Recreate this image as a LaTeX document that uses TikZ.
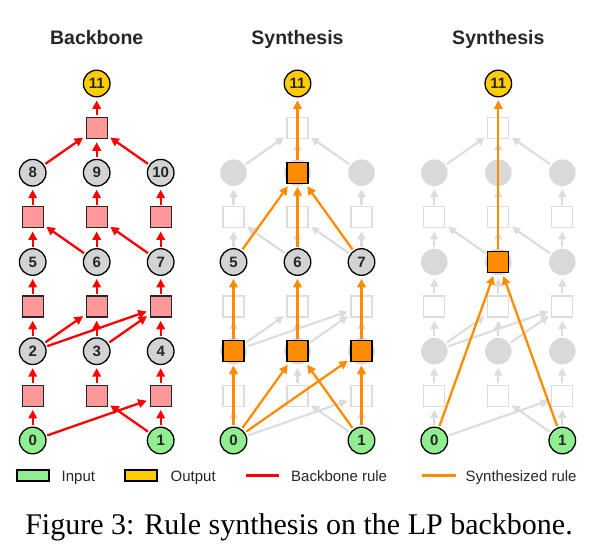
\documentclass[tikz,border=0pt]{standalone}
\usepackage{fontspec}
\setmainfont{Liberation Sans}
\newfontfamily\capfont{Liberation Serif}
\usetikzlibrary{arrows.meta}
\definecolor{nodegray}{HTML}{D3D3D3}
\definecolor{ingreen}{HTML}{90EE90}
\definecolor{outgold}{HTML}{FFCC00}
\definecolor{sqpink}{HTML}{FF9999}
\definecolor{synorange}{HTML}{FF8C00}
\definecolor{ghostline}{HTML}{DCDCDC}
\definecolor{ghostfill}{HTML}{D9D9D9}
\definecolor{txt}{HTML}{262626}
\tikzset{
  var/.style={circle, draw=black, line width=1.3pt, fill=nodegray, minimum size=26.6pt, inner sep=0pt,
    font=\bfseries\fontsize{15}{15}\selectfont, text=txt},
  invar/.style={var, fill=ingreen},
  outvar/.style={var, fill=outgold},
  rulebox/.style={rectangle, draw=txt, line width=1.3pt, fill=sqpink, minimum size=21pt, inner sep=0pt},
  synbox/.style={rectangle, draw=black, line width=1.3pt, fill=synorange, minimum size=21pt, inner sep=0pt},
  ghostvar/.style={circle, fill=ghostfill, minimum size=26.6pt, inner sep=0pt},
  ghostbox/.style={rectangle, draw=ghostline, line width=1.3pt, fill=white, minimum size=21pt, inner sep=0pt},
  bbarrow/.style={draw=red, line width=2.3pt, -{Triangle[length=8.5pt,width=8.5pt]}, shorten >=3pt, shorten <=1.5pt},
  ghostarrow/.style={draw=ghostline, line width=2.1pt, -{Triangle[length=8pt,width=8pt]}, shorten >=3pt, shorten <=1.5pt},
  synarrow/.style={draw=synorange, line width=2.3pt, -{Triangle[length=8.5pt,width=8.5pt]}, shorten >=3pt, shorten <=1.5pt},
  title/.style={font=\bfseries\fontsize{19.5}{19.5}\selectfont, text=txt, anchor=base},
  legbox/.style={rectangle, draw=black, line width=1.2pt, minimum width=32pt, minimum height=11pt, inner sep=0pt},
  legtext/.style={font=\fontsize{15}{15}\selectfont, text=txt, anchor=base west, inner sep=0pt},
  legline/.style={line width=3pt},
}
\begin{document}
\begin{tikzpicture}[x=1pt,y=-1pt]
\useasboundingbox (0,0) rectangle (599,557);
% titles
\node[title] (t1) at (96.7,44) {Backbone};
\node[title] (t2) at (297.5,44) {Synthesis};
\node[title] (t3) at (498.3,44) {Synthesis};

% ===== Left panel: backbone =====
\begin{scope}
\foreach \k/\x/\y in {2/32.7/351.2, 3/96.7/351.2, 4/160.7/351.2, 5/32.7/262.0, 6/96.7/262.0, 7/160.7/262.0, 8/32.7/172.7, 9/96.7/172.7, 10/160.7/172.7}
  \node[var] (L\k) at (\x,\y) {\k};
\node[invar] (L0) at (32.7,440.5) {0};
\node[invar] (L1) at (160.7,440.5) {1};
\node[outvar] (L11) at (96.7,83.5) {11};
\foreach \k/\x/\y in {2/32.7/351.2, 3/96.7/351.2, 4/160.7/351.2, 5/32.7/262.0, 6/96.7/262.0, 7/160.7/262.0, 8/32.7/172.7, 9/96.7/172.7, 10/160.7/172.7, 11/96.7/83.5}
  \node[rulebox] (LS\k) at (\x,\y+44.6) {};
\foreach \a/\b in {0/2, 1/3, 0/4, 1/4, 2/5, 2/6, 3/6, 2/7, 3/7, 4/7, 5/8, 6/8, 6/9, 7/9, 7/10, 8/11, 9/11, 10/11}
  \draw[bbarrow] (L\a) -- (LS\b);
\foreach \k in {2,...,11}
  \draw[bbarrow] (LS\k) -- (L\k);
\end{scope}

% ===== Middle panel =====
\begin{scope}
\foreach \k/\x/\y in {2/233.5/351.2, 3/297.5/351.2, 4/361.5/351.2, 8/233.5/172.7, 9/297.5/172.7, 10/361.5/172.7}
  \node[ghostvar] (M\k) at (\x,\y) {};
\foreach \k/\x/\y in {5/233.5/262.0, 6/297.5/262.0, 7/361.5/262.0}
  \node[var] (M\k) at (\x,\y) {\k};
\node[invar] (M0) at (233.5,440.5) {0};
\node[invar] (M1) at (361.5,440.5) {1};
\node[outvar] (M11) at (297.5,83.5) {11};
\foreach \k/\x/\y in {2/233.5/351.2, 3/297.5/351.2, 4/361.5/351.2, 5/233.5/262.0, 6/297.5/262.0, 7/361.5/262.0, 8/233.5/172.7, 9/297.5/172.7, 10/361.5/172.7, 11/297.5/83.5}
  \node[ghostbox] (MS\k) at (\x,\y+44.6) {};
\foreach \a/\b in {0/2, 1/3, 0/4, 1/4, 2/5, 2/6, 3/6, 2/7, 3/7, 4/7, 5/8, 6/8, 6/9, 7/9, 7/10, 8/11, 9/11, 10/11}
  \draw[ghostarrow] (M\a) -- (MS\b);
\foreach \k in {2,...,11}
  \draw[ghostarrow] (MS\k) -- (M\k);
\node[synbox] (MO2) at (M2) {};
\node[synbox] (MO3) at (M3) {};
\node[synbox] (MO4) at (M4) {};
\node[synbox] (MO9) at (M9) {};
\foreach \a/\b in {M0/MO2, M0/MO3, M0/MO4, M1/MO3, M1/MO4, MO2/M5, MO3/M6, MO4/M7, M5/MO9, M6/MO9, M7/MO9, MO9/M11}
  \draw[synarrow] (\a) -- (\b);
\end{scope}

% ===== Right panel =====
\begin{scope}
\foreach \k/\x/\y in {2/434.3/351.2, 3/498.3/351.2, 4/562.3/351.2, 5/434.3/262.0, 6/498.3/262.0, 7/562.3/262.0, 8/434.3/172.7, 9/498.3/172.7, 10/562.3/172.7}
  \node[ghostvar] (R\k) at (\x,\y) {};
\node[invar] (R0) at (434.3,440.5) {0};
\node[invar] (R1) at (562.3,440.5) {1};
\node[outvar] (R11) at (498.3,83.5) {11};
\foreach \k/\x/\y in {2/434.3/351.2, 3/498.3/351.2, 4/562.3/351.2, 5/434.3/262.0, 6/498.3/262.0, 7/562.3/262.0, 8/434.3/172.7, 9/498.3/172.7, 10/562.3/172.7, 11/498.3/83.5}
  \node[ghostbox] (RS\k) at (\x,\y+44.6) {};
\foreach \a/\b in {0/2, 1/3, 0/4, 1/4, 2/5, 2/6, 3/6, 2/7, 3/7, 4/7, 5/8, 6/8, 6/9, 7/9, 7/10, 8/11, 9/11, 10/11}
  \draw[ghostarrow] (R\a) -- (RS\b);
\foreach \k in {2,...,11}
  \draw[ghostarrow] (RS\k) -- (R\k);
\node[synbox] (RO6) at (R6) {};
\foreach \a/\b in {R0/RO6, R1/RO6, RO6/R11}
  \draw[synarrow] (\a) -- (\b);
\end{scope}

% ===== Legend =====
\node[legbox, fill=ingreen] (lin) at (33,475.5) {};
\node[legtext] (linT) at (61.5,481) {Input};
\node[legbox, fill=outgold] (lout) at (141,475.5) {};
\node[legtext] (loutT) at (170.5,481) {Output};
\coordinate (lrA) at (245.5,475.5);
\coordinate (lrB) at (279,475.5);
\draw[legline, red] (lrA) -- (lrB);
\node[legtext] (lrT) at (291,481) {Backbone rule};
\coordinate (loA) at (421.5,475.5);
\coordinate (loB) at (455.5,475.5);
\draw[legline, synorange] (loA) -- (loB);
\node[legtext] (loT) at (465.5,481) {Synthesized rule};

% caption
\node[font=\capfont\fontsize{30}{30}\selectfont, anchor=base, inner sep=0pt] (cap) at (299,534) {Figure 3: Rule synthesis on the LP backbone.};
\end{tikzpicture}
\end{document}
